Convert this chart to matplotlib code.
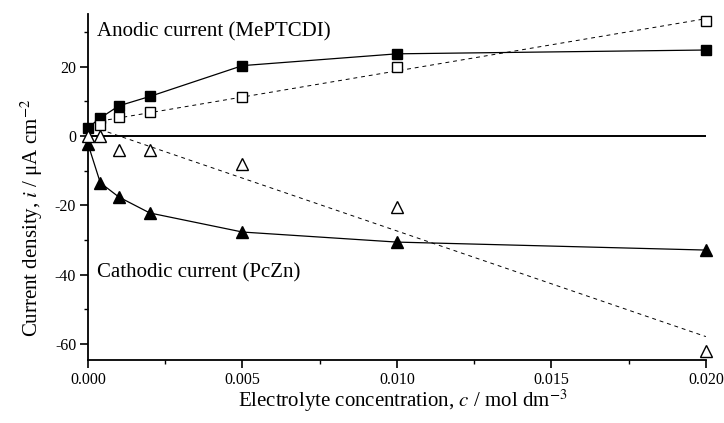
import numpy as np
import matplotlib
matplotlib.use("Agg")
import matplotlib.pyplot as plt
from matplotlib.ticker import MultipleLocator, FixedLocator

plt.rcParams['font.family'] = ['Liberation Serif', 'DejaVu Serif']
plt.rcParams['mathtext.fontset'] = 'stix'

# Data
conc = [0.0, 0.0004, 0.001, 0.002, 0.005, 0.010, 0.020]
anodic_filled = [2.4, 5.2, 8.7, 11.4, 20.3, 23.7, 24.8]
anodic_open_x = [0.0004, 0.001, 0.002, 0.005, 0.010, 0.020]
anodic_open = [3.2, 5.5, 6.9, 11.3, 20.0, 33.2]
cathodic_filled = [-2.3, -13.5, -17.6, -22.2, -27.7, -30.6, -32.9]
cathodic_open = [0.0, 0.0, -4.0, -4.0, -8.0, -20.5, -62.0]

xticks = [0.000, 0.005, 0.010, 0.015, 0.020]
xticklabels = ['0.000', '0.005', '0.010', '0.015', '0.020']
yticks = [-60, -40, -20, 0, 20]
yticklabels = ['-60', '-40', '-20', '0', '20']

fig = plt.figure(figsize=(7.24, 4.23), dpi=100)
ax = fig.add_axes([0.1215, 0.149, 0.8535, 0.818])

# zero line
ax.axhline(0, color='black', lw=1.4, zorder=1)

# solid lines with filled markers
ax.plot(conc, anodic_filled, '-', color='black', lw=0.9, marker='s', ms=7,
        mfc='black', mec='black', clip_on=False, zorder=3)
ax.plot(conc, cathodic_filled, '-', color='black', lw=0.9, marker='^', ms=8,
        mfc='black', mec='black', clip_on=False, zorder=3)

# open markers
ax.plot(anodic_open_x, anodic_open, ls='none', marker='s', ms=7, mfc='white',
        mec='black', mew=1.0, clip_on=False, zorder=4)
ax.plot(conc, cathodic_open, ls='none', marker='^', ms=8, mfc='white',
        mec='black', mew=1.0, clip_on=False, zorder=4)

# linear fits (dashed)
fx = np.array([0.0004, 0.020])
pa = np.polyfit(anodic_open_x, anodic_open, 1)
ax.plot(fx, np.polyval(pa, fx), ls=(0, (4, 4)), color='black', lw=0.7, zorder=2)
pc = np.polyfit(conc[1:], cathodic_open[1:], 1)
ax.plot(fx, np.polyval(pc, fx), ls=(0, (4, 4)), color='black', lw=0.7, zorder=2)

ax.set_xlim(0, 0.020)
ax.set_ylim(-64.6, 35.2)

for s in ['top', 'right']:
    ax.spines[s].set_visible(False)
for s in ['left', 'bottom']:
    ax.spines[s].set_linewidth(1.3)

ax.xaxis.set_major_locator(FixedLocator(xticks))
ax.set_xticklabels(xticklabels)
ax.xaxis.set_minor_locator(MultipleLocator(0.0025))
ax.yaxis.set_major_locator(FixedLocator(yticks))
ax.set_yticklabels(yticklabels)
ax.yaxis.set_minor_locator(MultipleLocator(10))
ax.tick_params(which='major', direction='out', length=6, width=1.2, labelsize=11.5)
ax.tick_params(axis='x', which='major', pad=2.5)
ax.tick_params(axis='y', which='major', pad=2.5)
ax.tick_params(which='minor', direction='out', length=3.2, width=1.0)

ax.text(0.0003, 30.0, 'Anodic current (MePTCDI)', fontsize=15, ha='left', va='center')
ax.text(0.0003, -39.5, 'Cathodic current (PcZn)', fontsize=15, ha='left', va='center')

ax.set_xlabel(r'Electrolyte concentration, $c$ / mol dm$^{-3}$', fontsize=15)
ax.xaxis.set_label_coords(0.51, -0.08)
ax.set_ylabel(r'Current density, $i$ / μA cm$^{-2}$', fontsize=15)
ax.yaxis.set_label_coords(-0.07, 0.41)

fig.savefig('out.png', dpi=100)
